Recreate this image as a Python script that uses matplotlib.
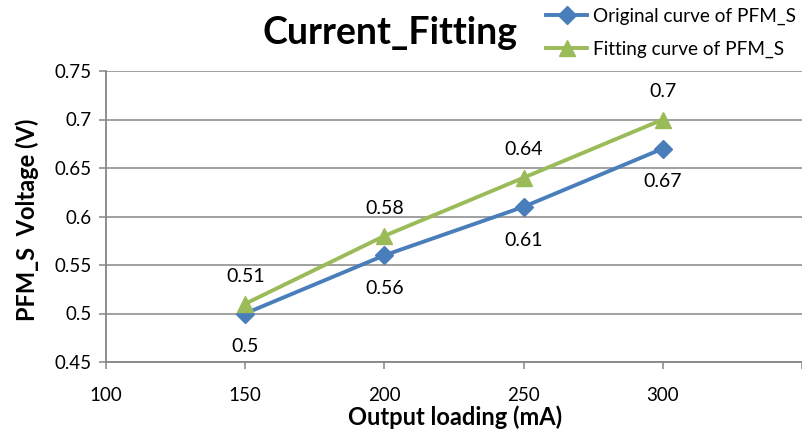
import matplotlib
matplotlib.use("Agg")
import matplotlib.pyplot as plt

plt.rcParams['font.family'] = ['Lato', 'DejaVu Sans']

# Data
loading_ma = [150, 200, 250, 300]
original_v = [0.5, 0.56, 0.61, 0.67]
fitting_v = [0.51, 0.58, 0.64, 0.7]
x_ticks = [100, 150, 200, 250, 300, 350]
x_tick_labels = ['100', '150', '200', '250', '300', '']
y_ticks = [0.45, 0.5, 0.55, 0.6, 0.65, 0.7, 0.75]
y_tick_labels = ['0.45', '0.5', '0.55', '0.6', '0.65', '0.7', '0.75']

blue = '#4A7EBB'
green = '#9BBB59'
grid_gray = '#868686'

W, H = 803, 437
fig = plt.figure(figsize=(W / 100, H / 100), dpi=100)
ax = fig.add_axes([106 / W, 1 - 362 / H, (802 - 106) / W, (362 - 71) / H])

ax.set_xlim(100, 350)
ax.set_ylim(0.45, 0.75)
ax.set_xticks(x_ticks)
ax.set_xticklabels(x_tick_labels)
ax.set_yticks(y_ticks)
ax.set_yticklabels(y_tick_labels)

ax.grid(axis='y', color=grid_gray, linewidth=1.1)
ax.set_axisbelow(True)
for side in ['top', 'right']:
    ax.spines[side].set_visible(False)
for side in ['left', 'bottom']:
    ax.spines[side].set_color(grid_gray)
    ax.spines[side].set_linewidth(1.3)
ax.tick_params(axis='both', colors=grid_gray, length=5, width=1.1,
               labelcolor='black', labelsize=13.5)
ax.tick_params(axis='x', pad=13)
ax.tick_params(axis='y', pad=5)

l1, = ax.plot(loading_ma, original_v, color=blue, linewidth=2.8,
              marker='D', markersize=9, label='Original curve of PFM_S',
              zorder=3)
l2, = ax.plot(loading_ma, fitting_v, color=green, linewidth=2.8,
              marker='^', markersize=11, label='Fitting curve of PFM_S',
              zorder=4)

for x, y in zip(loading_ma, original_v):
    ax.annotate(f'{y:g}', (x, y), xytext=(0, -24), textcoords='offset points',
                ha='center', va='center', fontsize=14)
for x, y in zip(loading_ma, fitting_v):
    ax.annotate(f'{y:g}', (x, y), xytext=(0, 20), textcoords='offset points',
                ha='center', va='center', fontsize=14)

fig.text(390 / W, 1 - 33 / H, 'Current_Fitting', ha='center', va='center',
         fontsize=27, fontweight='bold')
fig.text(455 / W, 1 - 417 / H, 'Output loading (mA)', ha='center',
         va='center', fontsize=17, fontweight='bold')
fig.text(27 / W, 1 - 220 / H, 'PFM_S  Voltage (V)', ha='center',
         va='center', rotation=90, fontsize=17, fontweight='bold')

fig.legend(handles=[l1, l2], loc='upper left',
           bbox_to_anchor=(538 / W, 1 - 0 / H), frameon=False,
           fontsize=13.7, handlelength=2.2, handletextpad=0.3,
           labelspacing=0.85, borderaxespad=0)

fig.savefig('out.png', dpi=100)
